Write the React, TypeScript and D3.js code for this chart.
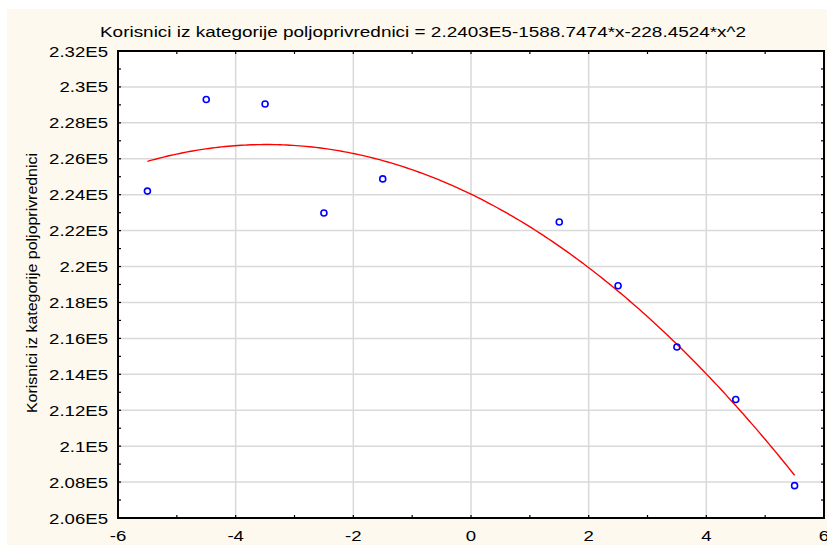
import React from "react";
import * as d3 from "d3";

const xValues = [-5.5, -4.5, -3.5, -2.5, -1.5, 1.5, 2.5, 3.5, 4.5, 5.5];
const yValues = [224200, 229300, 229050, 222980, 224880, 222480, 218930, 215520, 212600, 207800];
const fitCoefficients = [224030, -1588.7474, -228.4524];
const fitRange = [-5.5, 5.5];
const xTicks = [-6, -4, -2, 0, 2, 4, 6];
const yTicks = [206000, 208000, 210000, 212000, 214000, 216000, 218000, 220000, 222000, 224000, 226000, 228000, 230000, 232000];
const titleText = "Korisnici iz kategorije poljoprivrednici = 2.2403E5-1588.7474*x-228.4524*x^2";
const yLabel = "Korisnici iz kategorije poljoprivrednici";

const W = 827, H = 545;
const L = 118, R = 824, T = 51, B = 518;
const SX = 1.2;

export default function App() {
  const x = d3.scaleLinear().domain([-6, 6]).range([L, R]);
  const y = d3.scaleLinear().domain([206000, 232000]).range([B, T]);
  const fit = (v: number) => fitCoefficients[0] + fitCoefficients[1] * v + fitCoefficients[2] * v * v;
  const samples = d3.range(0, 201).map((i) => fitRange[0] + (fitRange[1] - fitRange[0]) * i / 200);
  const line = d3.line<number>().x((v) => x(v)).y((v) => y(fit(v)));
  const fmtY = (v: number) => `${+(v / 1e5).toFixed(2)}E5`;
  const minorX = d3.range(-5, 6, 2);
  const minorY = yTicks.slice(0, -1).map((v) => v + 1000);
  const font = "Liberation Sans, Arial, sans-serif";
  return (
    <svg width={W} height={H} style={{ position: "absolute", left: 0, top: 0 }} fontFamily={font}>
      <rect x={0} y={0} width={W} height={H} fill="#ffffff" />
      <rect x={7} y={9} width={W - 7} height={H - 9} fill="#fdf9ef" />
      <rect x={L} y={T} width={R - L} height={B - T} fill="#ffffff" />
      {xTicks.slice(1, -1).map((t) => (
        <line key={"gx" + t} x1={x(t)} x2={x(t)} y1={T} y2={B} stroke="#d9d9d9" strokeWidth={1.5} />
      ))}
      {yTicks.slice(1, -1).map((t) => (
        <line key={"gy" + t} x1={L} x2={R} y1={y(t)} y2={y(t)} stroke="#d9d9d9" strokeWidth={1.5} />
      ))}
      <path d={line(samples) || ""} fill="none" stroke="#ff0000" strokeWidth={1.4} />
      {xValues.map((v, i) => (
        <circle key={"p" + i} cx={x(v)} cy={y(yValues[i])} r={3} fill="none" stroke="#0000ff" strokeWidth={1.6} />
      ))}
      {xTicks.concat(minorX).map((t) => (
        <g key={"tx" + t}>
          <line x1={x(t)} x2={x(t)} y1={B} y2={B - 3} stroke="#000" strokeWidth={1.2} />
          <line x1={x(t)} x2={x(t)} y1={T} y2={T + 3} stroke="#000" strokeWidth={1.2} />
        </g>
      ))}
      {yTicks.concat(minorY).map((t) => (
        <g key={"ty" + t}>
          <line x1={L} x2={L + 3} y1={y(t)} y2={y(t)} stroke="#000" strokeWidth={1.2} />
          <line x1={R} x2={R - 3} y1={y(t)} y2={y(t)} stroke="#000" strokeWidth={1.2} />
        </g>
      ))}
      <rect x={L} y={T} width={R - L} height={B - T} fill="none" stroke="#000" strokeWidth={2} />
      {yTicks.map((t) => (
        <text key={"ly" + t} transform={`translate(${L - 10}, ${y(t) + 5.5}) scale(${SX}, 1)`} textAnchor="end" fontSize={15.5} fill="#000">
          {fmtY(t)}
        </text>
      ))}
      {xTicks.map((t) => (
        <text key={"lx" + t} transform={`translate(${x(t)}, 541) scale(${SX}, 1)`} textAnchor="middle" fontSize={15.5} fill="#000">
          {t}
        </text>
      ))}
      <text x={423} y={37} textAnchor="middle" fontSize={15.5} fill="#000" textLength={646} lengthAdjust="spacingAndGlyphs">{titleText}</text>
      <text transform={`translate(37, 283) rotate(-90)`} textAnchor="middle" fontSize={15.5} fill="#000" textLength={260} lengthAdjust="spacingAndGlyphs">
        {yLabel}
      </text>
    </svg>
  );
}
